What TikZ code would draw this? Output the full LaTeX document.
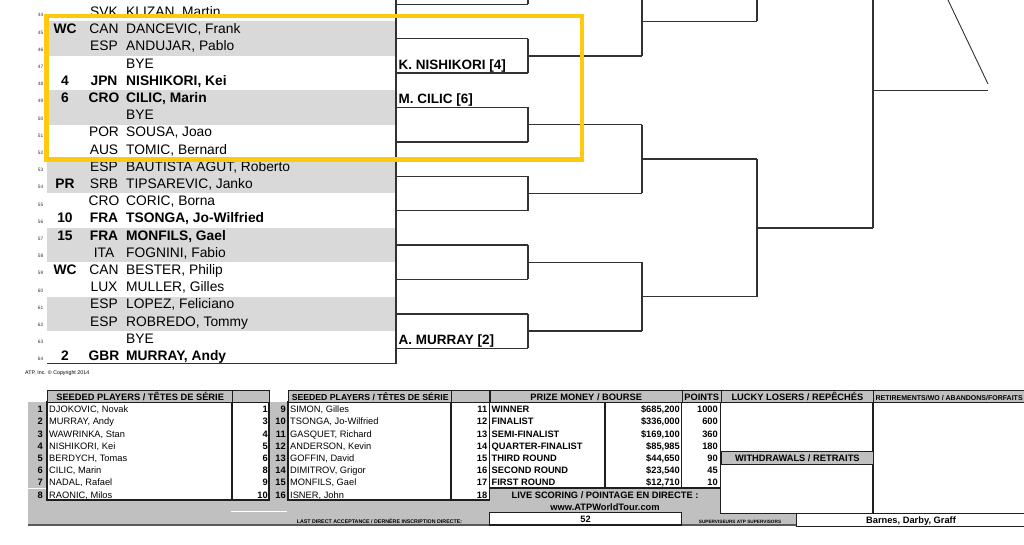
\documentclass[tikz,border=0pt]{standalone}
\usepackage{fontspec}
\setmainfont{Liberation Sans}
\definecolor{bandgray}{RGB}{217,217,217}
\definecolor{panelgray}{RGB}{192,192,192}
\definecolor{linegray}{RGB}{50,50,50}
\definecolor{tabline}{RGB}{30,30,30}
\definecolor{markyellow}{RGB}{255,201,14}
\tikzset{
  cell/.style={inner sep=0pt, text height=0.72em, text depth=0pt},
  drawtxt/.style={cell, font=\fontsize{13.8}{15}\selectfont},
  seedtxt/.style={cell, font=\fontsize{13.8}{15}\selectfont\bfseries},
  tabtxt/.style={cell, font=\fontsize{9.3}{10}\selectfont},
  tabbold/.style={cell, font=\fontsize{9.3}{10}\selectfont\bfseries},
  lnum/.style={inner sep=0pt, font=\fontsize{4.8}{5}\selectfont, text=linegray},
  finetxt/.style={cell, font=\fontsize{5.3}{6}\selectfont\bfseries},
  band/.style={fill=bandgray},
  bline/.style={draw=linegray, line width=1.4pt},
  tline/.style={draw=tabline, line width=1.3pt},
  hdr/.style={cell, draw=tabline, line width=1.3pt, fill=panelgray, anchor=north west,
    minimum height=11.7pt, font=\fontsize{9.3}{10}\selectfont\bfseries},
}
\begin{document}
\begin{tikzpicture}[x=1pt, y=-1pt]
  \useasboundingbox (0,0) rectangle (1024,544);
  % draw rows
  \foreach \n in {45,49,53,57,61}
    \fill[band] (47,{30+(\n-45)*17.2-8.6}) rectangle (396,{30+(\n-44)*17.2+8.6});
  \foreach \n/\sd/\ct/\nm/\wt in {
      44//SVK/{KLIZAN, Martin}/\mdseries,
      45/WC/CAN/{DANCEVIC, Frank}/\mdseries,
      46//ESP/{ANDUJAR, Pablo}/\mdseries,
      47///BYE/\mdseries,
      48/4/JPN/{NISHIKORI, Kei}/\bfseries,
      49/6/CRO/{CILIC, Marin}/\bfseries,
      50///BYE/\mdseries,
      51//POR/{SOUSA, Joao}/\mdseries,
      52//AUS/{TOMIC, Bernard}/\mdseries,
      53//ESP/{BAUTISTA AGUT, Roberto}/\mdseries,
      54/PR/SRB/{TIPSAREVIC, Janko}/\mdseries,
      55//CRO/{CORIC, Borna}/\mdseries,
      56/10/FRA/{TSONGA, Jo-Wilfried}/\bfseries,
      57/15/FRA/{MONFILS, Gael}/\bfseries,
      58//ITA/{FOGNINI, Fabio}/\mdseries,
      59/WC/CAN/{BESTER, Philip}/\mdseries,
      60//LUX/{MULLER, Gilles}/\mdseries,
      61//ESP/{LOPEZ, Feliciano}/\mdseries,
      62//ESP/{ROBREDO, Tommy}/\mdseries,
      63///BYE/\mdseries,
      64/2/GBR/{MURRAY, Andy}/\bfseries}{
    \pgfmathsetmacro\ry{30+(\n-45)*17.2}
    \node[lnum] (l\n) at (40.5,\ry+2.5) {\n};
    \node[seedtxt] (s\n) at (65,\ry) {\sd};
    \node[drawtxt] (c\n) at (104,\ry) {\wt\ct};
    \node[drawtxt, anchor=west] (p\n) at (126,\ry) {\wt\nm};
  }
  \draw[bline] (396,0) -- (396,363.3) -- (47,363.3);
  \node[finetxt, anchor=west, font=\fontsize{5.3}{6}\selectfont] (copy) at (25,371) {ATP, Inc. © Copyright 2014};

  % bracket
  \foreach \i in {0,...,10}
    \draw[bline] (396,{4.2+34.4*\i}) -- (528,{4.2+34.4*\i});
  \draw[bline] (528,0) -- (528,4.2);
  \foreach \j in {0,...,4} {
    \draw[bline] (528,{38.6+68.8*\j}) -- (528,{73+68.8*\j});
    \draw[bline] (528,{55.8+68.8*\j}) -- (642,{55.8+68.8*\j});
  }
  \draw[bline] (642,0) -- (642,55.8) (642,124.6) -- (642,193.4) (642,262.2) -- (642,331);
  \foreach \m in {0,1,2}
    \draw[bline] (642,{21.4+137.6*\m}) -- (757,{21.4+137.6*\m});
  \draw[bline] (757,0) -- (757,21.4) (757,159) -- (757,296.6);
  \draw[bline] (757,227.8) -- (873,227.8) (873,0) -- (873,227.8) (873,90.2) -- (988,90.2);
  \draw[draw=linegray, line width=0.9pt] (988,84) -- (948,0);
  \node[seedtxt, font=\fontsize{13.5}{15}\selectfont\bfseries, anchor=south west] (w48) at (398.5,69.2) {K. NISHIKORI [4]};
  \node[seedtxt, font=\fontsize{13.5}{15}\selectfont\bfseries, anchor=south west] (w49) at (398.5,103.8) {M. CILIC [6]};
  \node[seedtxt, font=\fontsize{13.5}{15}\selectfont\bfseries, anchor=south west] (w64) at (398.5,344.7) {A. MURRAY [2]};

  % bottom panel
  \fill[panelgray] (28,401.7) rectangle (1024,525);
  \draw[draw=black!65, line width=2pt] (28,525) -- (1024,525);
  \draw[white, line width=0.8pt] (28,488.3) -- (47,488.3);
  \draw[white, line width=1pt] (230.7,511.7) -- (286.7,511.7);
  \filldraw[fill=white, tline] (47,401.7) rectangle (232,500);
  \filldraw[fill=white, tline] (232,401.7) rectangle (269,500);
  \filldraw[fill=white, tline] (288,401.7) rectangle (451,500);
  \filldraw[fill=white, tline] (451,401.7) rectangle (489.3,500);
  \filldraw[fill=white, tline] (489.3,401.7) rectangle (605,488);
  \filldraw[fill=white, tline] (605,401.7) rectangle (681.7,488);
  \filldraw[fill=white, tline] (681.7,401.7) rectangle (720.5,488);
  \filldraw[fill=white, tline] (720.5,401.7) rectangle (873,513.3);
  \filldraw[fill=white, tline] (873,401.7) rectangle (1028,513.3);
  \filldraw[fill=white, tline] (489.3,512.7) rectangle (681.7,525);
  \filldraw[fill=white, tline] (796.7,513.3) rectangle (1028,526.7);

  \node[hdr, minimum width=185pt] (sp1) at (47,390) {SEEDED PLAYERS / TÊTES DE SÉRIE};
  \node[hdr, minimum width=37pt] (rk1) at (232,390) {};
  \node[hdr, minimum width=163pt, font=\fontsize{8.7}{9}\selectfont\bfseries] (sp2) at (288,390) {SEEDED PLAYERS / TÊTES DE SÉRIE};
  \node[hdr, minimum width=38.3pt] (rk2) at (451,390) {};
  \node[hdr, minimum width=192.4pt] (pm) at (489.3,390) {PRIZE MONEY / BOURSE};
  \node[hdr, minimum width=38.8pt] (pts) at (681.7,390) {POINTS};
  \node[hdr, minimum width=152.5pt] (ll) at (720.5,390) {LUCKY LOSERS / REPÊCHÉS};
  \node[hdr, minimum width=151pt, font=\fontsize{7}{8}\selectfont\bfseries] (ret) at (873,390) {RETIREMENTS/WO / ABANDONS/FORFAITS};
  \node[hdr, minimum width=152.5pt, minimum height=13pt] (wd) at (720.5,451) {WITHDRAWALS / RETRAITS};

  % seeds
  \foreach \nm/\rk [count=\i] in {{DJOKOVIC, Novak}/1, {MURRAY, Andy}/3, {WAWRINKA, Stan}/4,
      {NISHIKORI, Kei}/5, {BERDYCH, Tomas}/6, {CILIC, Marin}/8, {NADAL, Rafael}/9, {RAONIC, Milos}/10} {
    \pgfmathsetmacro\ty{409+12.2*(\i-1)}
    \node[tabbold, anchor=east] (sa\i) at (43,\ty) {\i};
    \node[tabtxt, anchor=west] (sn\i) at (49,\ty) {\nm};
    \node[tabbold, anchor=east] (sr\i) at (268,\ty) {\rk};
  }
  \foreach \nm/\rk [count=\i from 9] in {{SIMON, Gilles}/11, {TSONGA, Jo-Wilfried}/12, {GASQUET, Richard}/13,
      {ANDERSON, Kevin}/14, {GOFFIN, David}/15, {DIMITROV, Grigor}/16, {MONFILS, Gael}/17, {ISNER, John}/18} {
    \pgfmathsetmacro\ty{409+12.2*(\i-9)}
    \node[tabbold, anchor=east] (sa\i) at (286,\ty) {\i};
    \node[tabtxt, anchor=west] (sn\i) at (290,\ty) {\nm};
    \node[tabbold, anchor=east] (sr\i) at (487.5,\ty) {\rk};
  }

  % prize money
  \foreach \lb/\am/\pt [count=\i] in {WINNER/{\$685,200}/1000, FINALIST/{\$336,000}/600,
      SEMI-FINALIST/{\$169,100}/360, QUARTER-FINALIST/{\$85,985}/180, THIRD ROUND/{\$44,650}/90,
      SECOND ROUND/{\$23,540}/45, FIRST ROUND/{\$12,710}/10} {
    \pgfmathsetmacro\ty{409+12.2*(\i-1)}
    \node[tabbold, anchor=west] (pl\i) at (491.5,\ty) {\lb};
    \node[tabbold, anchor=east] (pa\i) at (680,\ty) {\am};
    \node[tabbold, anchor=east] (pp\i) at (718,\ty) {\pt};
  }
  \node[tabbold] (live) at (605,495) {LIVE SCORING / POINTAGE EN DIRECTE :};
  \node[tabbold] (web) at (605,506.7) {www.ATPWorldTour.com};
  \node[tabbold] (lda) at (585.5,519) {52};
  \node[finetxt] (ldatxt) at (379.5,520) {LAST DIRECT ACCEPTANCE / DERNÈRE INSCRIPTION DIRECTE:};
  \node[finetxt, font=\fontsize{4.7}{5}\selectfont\bfseries] (suptxt) at (740,520) {SUPERVISEURS ATP SUPERVISORS};
  \node[tabbold] (sup) at (911,520) {Barnes, Darby, Graff};

  % highlight
  \draw[markyellow, line width=4.5pt] (46.5,15.8) rectangle (582,159.5);
\end{tikzpicture}
\end{document}
